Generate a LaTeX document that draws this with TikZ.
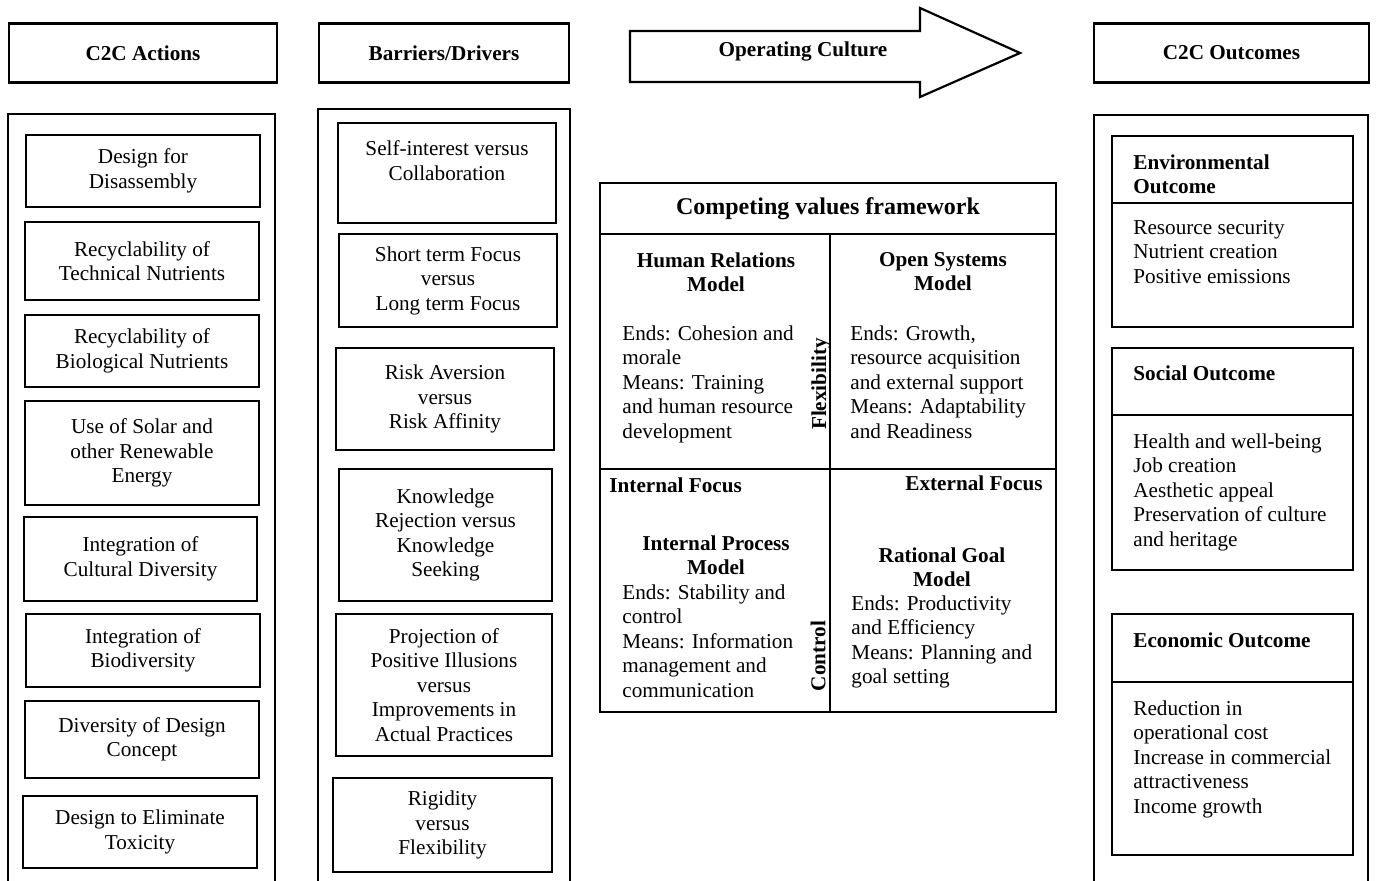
\documentclass[tikz,border=0pt]{standalone}
\usepackage{fontspec}
\setmainfont{Liberation Serif}
\usepackage{tikz}

\begin{document}
\begin{tikzpicture}[
    x=0.5pt,y=-0.5pt,
    every node/.style={font=\fontsize{10.6}{12.25}\selectfont},
    head/.style={draw,line width=1.1pt,minimum height=29.5pt,font=\fontsize{10.6}{12.25}\selectfont\bfseries},
    item/.style={draw,line width=1.3pt,align=center},
    outc/.style={draw,line width=1.3pt,minimum width=120.5pt},
    quad/.style={draw,line width=1.1pt},
    txt/.style={align=left,anchor=north west,inner sep=0pt},
    btxt/.style={txt,font=\fontsize{10.6}{12.25}\selectfont\bfseries},
    btitle/.style={align=center,anchor=north,inner sep=0pt,font=\fontsize{10.6}{12.25}\selectfont\bfseries},
    side/.style={rotate=90,inner sep=0pt,font=\fontsize{10.6}{12.25}\selectfont\bfseries}
  ]
    \useasboundingbox (0,0) rectangle (1376,881);

    % headings
    \node[head,minimum width=134pt] (act) at (143,53) {C2C Actions};
    \node[head,minimum width=125pt] (bd) at (444,53) {Barriers/Drivers};
    \node[head,minimum width=137.5pt] (out) at (1231.5,53) {C2C Outcomes};
    \draw[line width=1.1pt] (630,31) -- (920,31) -- (920,8) -- (1020,53) -- (920,97) -- (920,82) -- (630,82) -- cycle;
    \node[font=\fontsize{10.6}{12.25}\selectfont\bfseries] (opc) at (803,51) {Operating Culture};

    % column frames
    \draw[line width=1pt] (8,881) |- (275,114) -- (275,881);
    \draw[line width=1pt] (318,881) |- (570,109) -- (570,881);
    \draw[line width=1pt] (1094,881) |- (1368,115) -- (1368,881);

    % C2C actions
    \node[item,minimum width=117pt,minimum height=36pt] (dfd) at (143,171) {Design for\\Disassembly};
    \node[item,minimum width=117pt,minimum height=39pt] (rtn) at (142,261) {Recyclability of\\Technical Nutrients};
    \node[item,minimum width=117pt,minimum height=36pt] (rbn) at (142,351) {Recyclability of\\Biological Nutrients};
    \node[item,minimum width=117pt,minimum height=52pt] (sol) at (142,453) {Use of Solar and\\other Renewable\\Energy};
    \node[item,minimum width=116.5pt,minimum height=42pt] (cul) at (140.5,559) {Integration of\\Cultural Diversity};
    \node[item,minimum width=117pt,minimum height=36.5pt] (bio) at (143,650.5) {Integration of\\Biodiversity};
    \node[item,minimum width=117pt,minimum height=38.5pt] (ddc) at (142,739.5) {Diversity of Design\\Concept};
    \node[item,minimum width=117pt,minimum height=36pt] (tox) at (140,832) {Design to Eliminate\\Toxicity};

    % barriers / drivers
    \node[item,minimum width=109pt,minimum height=50pt] (sic) at (447,173) {Self-interest versus\\Collaboration\\~};
    \node[item,minimum width=109pt,minimum height=46.5pt] (stf) at (448,280.5) {Short term Focus\\versus\\Long term Focus};
    \node[item,minimum width=109pt,minimum height=51pt] (rsk) at (445,399) {Risk Aversion\\versus\\Risk Affinity};
    \node[item,minimum width=106.5pt,minimum height=66pt] (kno) at (445.5,535) {Knowledge\\Rejection versus\\Knowledge\\Seeking};
    \node[item,minimum width=108pt,minimum height=71pt] (ill) at (444,685) {Projection of\\Positive Illusions\\versus\\Improvements in\\Actual Practices};
    \node[item,minimum width=109.5pt,minimum height=47pt] (rig) at (442.5,825) {Rigidity\\versus\\Flexibility};

    % competing values framework
    \node[draw,line width=1.1pt,minimum width=228pt,minimum height=25.5pt,font=\fontsize{12}{14}\selectfont\bfseries] (cvf) at (828,208.5) {Competing values framework};
    \node[quad,minimum width=115pt,minimum height=117.5pt] (hr) at (715,351.5) {};
    \node[quad,minimum width=113pt,minimum height=117.5pt] (os) at (943,351.5) {};
    \node[quad,minimum width=115pt,minimum height=121.5pt] (ip) at (715,590.5) {};
    \node[quad,minimum width=113pt,minimum height=121.5pt] (rg) at (943,590.5) {};

    \node[btitle] (hrt) at (716,252) {Human Relations\\Model};
    \node[txt] (hrl) at (622,325) {Ends: Cohesion and\\morale\\Means: Training\\and human resource\\development};
    \node[btitle] (ost) at (943,252) {Open Systems\\Model};
    \node[txt] (osl) at (850,325) {Ends: Growth,\\resource acquisition\\and external support\\Means: Adaptability\\and Readiness};
    \node[side] (flex) at (821,384) {Flexibility};
    \node[btxt] (inf) at (609,477) {Internal Focus};
    \node[btxt,anchor=north east] (exf) at (1043,475) {External Focus};
    \node[btitle] (ipt) at (716,535) {Internal Process\\Model};
    \node[txt] (ipl) at (622,584) {Ends: Stability and\\control\\Means: Information\\management and\\communication};
    \node[btitle] (rgt) at (942,547) {Rational Goal\\Model};
    \node[txt] (rgl) at (851,595) {Ends: Productivity\\and Efficiency\\Means: Planning and\\goal setting};
    \node[side] (ctl) at (818,656) {Control};

    % C2C outcomes
    \node[outc,minimum height=33.5pt] (envh) at (1232.5,169.5) {};
    \node[outc,minimum height=62pt] (envb) at (1232.5,265) {};
    \node[outc,minimum height=33.5pt] (soch) at (1232.5,381.5) {};
    \node[outc,minimum height=77.5pt] (socb) at (1232.5,492.5) {};
    \node[outc,minimum height=34pt] (ecoh) at (1232.5,648) {};
    \node[outc,minimum height=86.5pt] (ecob) at (1232.5,768.5) {};

    \node[btxt] (envt) at (1133,154) {Environmental\\Outcome};
    \node[txt] (envl) at (1133,220) {Resource security\\Nutrient creation\\Positive emissions};
    \node[btxt] (soct) at (1133,365) {Social Outcome};
    \node[txt] (socl) at (1133,433) {Health and well-being\\Job creation\\Aesthetic appeal\\Preservation of culture\\and heritage};
    \node[btxt] (ecot) at (1133,632) {Economic Outcome};
    \node[txt] (ecol) at (1133,700) {Reduction in\\operational cost\\Increase in commercial\\attractiveness\\Income growth};
  \end{tikzpicture}
\end{document}
